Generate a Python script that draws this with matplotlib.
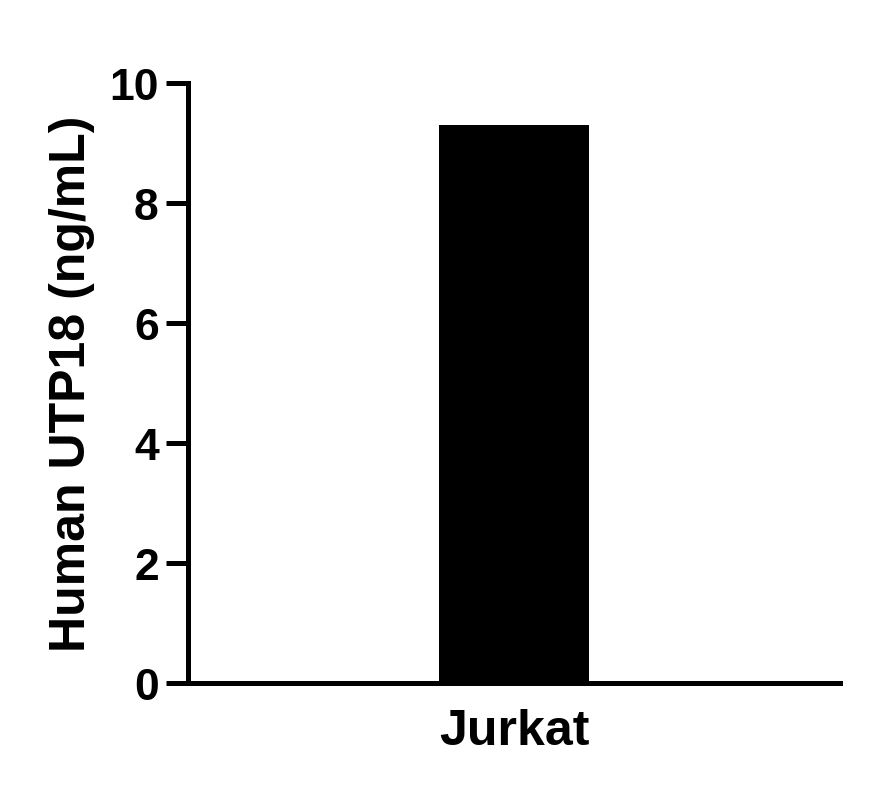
import matplotlib.pyplot as plt

plt.rcParams['font.family'] = ['Liberation Sans', 'DejaVu Sans']
plt.rcParams['font.weight'] = 'bold'

categories = ['Jurkat']
values = [9.3]
yticks = [0, 2, 4, 6, 8, 10]

fig = plt.figure(figsize=(8.69, 8.04), dpi=100)
ax = fig.add_axes([188 / 869, 1 - 684 / 804, (840 - 188) / 869, (684 - 84) / 804])

ax.bar(range(len(categories)), values, width=0.46, color='black')

ax.set_xlim(-1, 1)
ax.set_ylim(0, 10)
ax.set_yticks(yticks)
ax.set_xticks(range(len(categories)))
ax.set_xticklabels(categories, fontsize=36, fontweight='bold')
ax.set_ylabel('Human UTP18 (ng/mL)', fontsize=36, fontweight='bold', labelpad=10)

for side in ['top', 'right']:
    ax.spines[side].set_visible(False)
for side in ['left', 'bottom']:
    ax.spines[side].set_linewidth(3.6)
    ax.spines[side].set_capstyle('projecting')

ax.tick_params(axis='y', length=16, width=3.6, labelsize=32, pad=5)
ax.tick_params(axis='x', length=0, pad=18)
for lbl in ax.get_yticklabels():
    lbl.set_fontweight('bold')

plt.savefig('out.png', dpi=100)
